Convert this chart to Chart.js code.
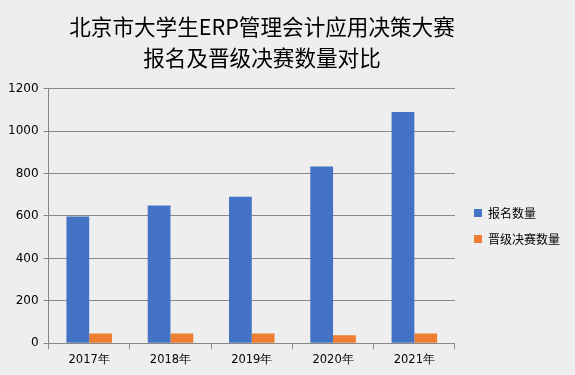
<!DOCTYPE html>
<html>
<head>
<meta charset="utf-8">
<script src="https://cdn.jsdelivr.net/npm/chart.js@4"></script>
<style>
  html, body { margin: 0; padding: 0; background: #eeeeee; }
  #wrap { width: 575px; height: 375px; }
</style>
</head>
<body>
<div id="wrap"><canvas id="compChart" width="575" height="375"></canvas></div>
<script>
const years = ['2017年', '2018年', '2019年', '2020年', '2021年'];
const signups = [598, 649, 691, 834, 1090];
const finalists = [46, 46, 46, 37, 46];
const yTicks = [0, 200, 400, 600, 800, 1000, 1200];
const titleLines = ['北京市大学生ERP管理会计应用决策大赛', '报名及晋级决赛数量对比'];

const cjk = "'Noto Sans CJK SC', 'Microsoft YaHei', sans-serif";

// nudge title left and legend down/right, like the Excel layout
const shiftBoxes = {
  id: 'shiftBoxes',
  afterLayout(chart) {
    const t = chart.titleBlock;
    if (t) { t.left -= 22; t.right -= 22; }
    const l = chart.legend;
    if (l) { l.top += 35; l.bottom += 35; l.left += 5; l.right += 5; }
  }
};

const ctx = document.getElementById('compChart').getContext('2d');

new Chart(ctx, {
  type: 'bar',
  data: {
    labels: years,
    datasets: [
      { label: '报名数量', data: signups, backgroundColor: '#4472c4' },
      { label: '晋级决赛数量', data: finalists, backgroundColor: '#ed7d31' }
    ]
  },
  plugins: [shiftBoxes],
  options: {
    responsive: false,
    animation: false,
    categoryPercentage: 0.56,
    barPercentage: 1.0,
    layout: { padding: { left: 3, right: 10, top: 11, bottom: 4 } },
    plugins: {
      title: {
        display: true,
        text: titleLines,
        color: '#000',
        font: { family: cjk, size: 21.6, weight: 'normal', lineHeight: 1.43 },
        padding: { top: 0, bottom: 16 }
      },
      legend: {
        position: 'right',
        labels: {
          boxWidth: 8,
          boxHeight: 8,
          padding: 14,
          color: '#000',
          font: { family: cjk, size: 12 }
        }
      },
      tooltip: { enabled: false }
    },
    scales: {
      x: {
        grid: {
          display: true,
          drawOnChartArea: false,
          color: '#888',
          tickLength: 6
        },
        border: { color: '#888' },
        ticks: { color: '#000', font: { family: "'DejaVu Sans', sans-serif", size: 11.5 }, padding: 4 }
      },
      y: {
        min: 0,
        max: 1200,
        afterBuildTicks: (axis) => { axis.ticks = yTicks.map(v => ({ value: v })); },
        grid: { color: '#888', tickLength: 5 },
        border: { color: '#888' },
        ticks: {
          color: '#000',
          font: { family: "'DejaVu Sans', sans-serif", size: 12 },
          padding: 5,
          callback: (v) => String(v)
        }
      }
    }
  }
});
</script>
</body>
</html>
